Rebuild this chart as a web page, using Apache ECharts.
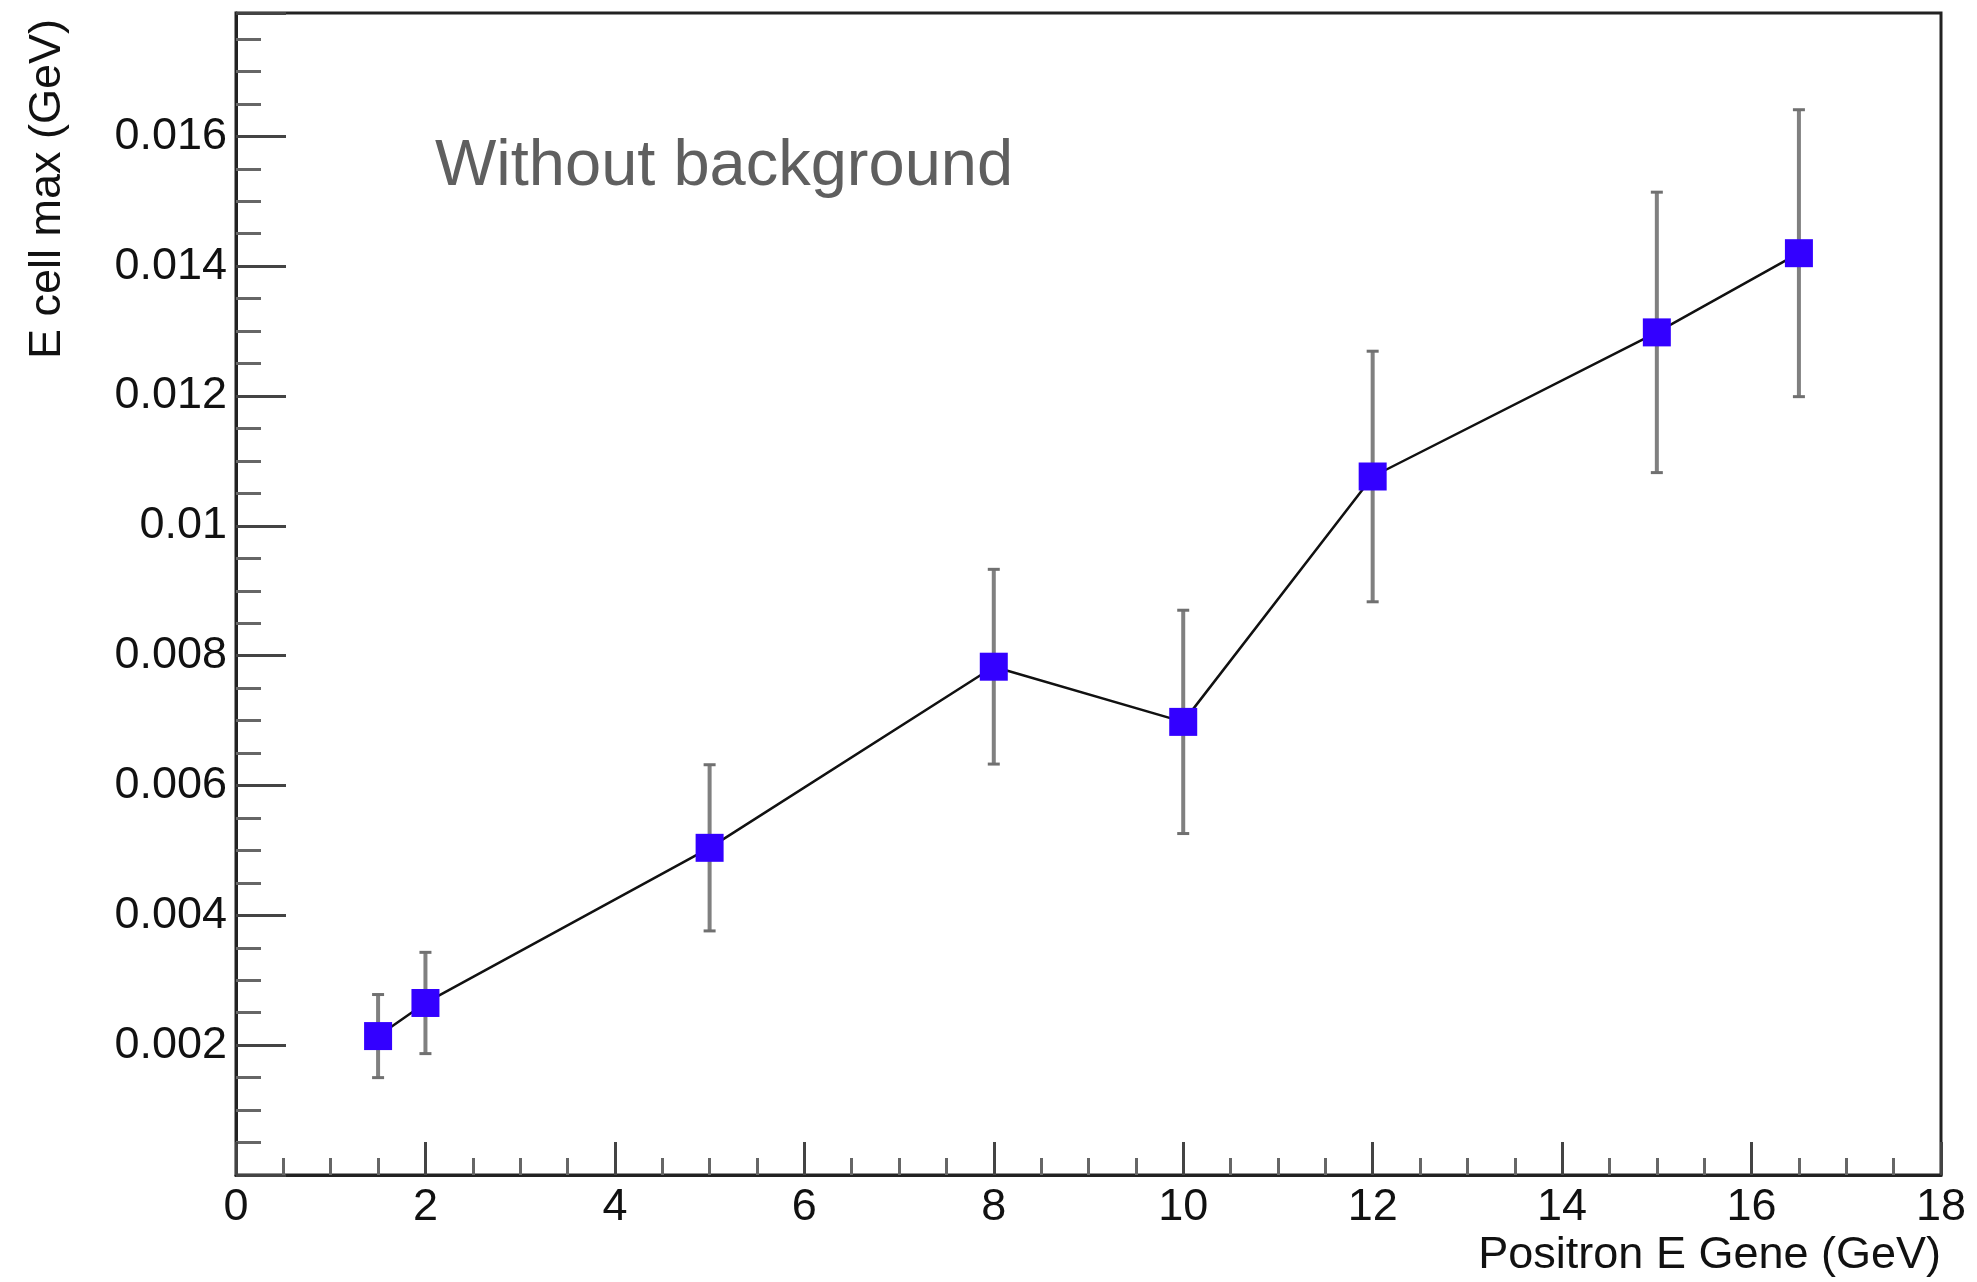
<!DOCTYPE html>
<html>
<head>
<meta charset="utf-8">
<script src="https://cdn.jsdelivr.net/npm/echarts@6/dist/echarts.min.js"></script>
<style>
html,body{margin:0;padding:0;background:#fff;}
#chart{width:1977px;height:1282px;}
</style>
</head>
<body>
<div id="chart"></div>
<script>
// Data
var xValues = [1.5, 2, 5, 8, 10, 12, 15, 16.5];
var yValues = [0.00214, 0.00265, 0.00504, 0.00783, 0.00698, 0.01076, 0.01298, 0.01420];
var yErrors = [0.00064, 0.00078, 0.00128, 0.00150, 0.00172, 0.00193, 0.00216, 0.00221];
var xTickLabels = ['0','2','4','6','8','10','12','14','16','18'];
var yTickLabels = ['0.002','0.004','0.006','0.008','0.01','0.012','0.014','0.016'];
var xTitle = 'Positron E Gene (GeV)';
var yTitle = 'E cell max (GeV)';
var annotation = 'Without background';

var FONT = '"Liberation Sans", Arial, Helvetica, sans-serif';

var points = xValues.map(function (x, i) { return [x, yValues[i]]; });
var errData = xValues.map(function (x, i) { return [x, yValues[i] - yErrors[i], yValues[i] + yErrors[i]]; });

function yLabel(v) {
  var k = Math.round(v / 0.002);
  if (k < 1 || k > yTickLabels.length) return '';
  if (Math.abs(v - k * 0.002) > 1e-9) return '';
  return yTickLabels[k - 1];
}
function xLabel(v) {
  var k = Math.round(v / 2);
  if (Math.abs(v - k * 2) > 1e-9) return '';
  return xTickLabels[k] || '';
}

var chart = echarts.init(document.getElementById('chart'), null, {renderer: 'canvas'});
var option = {
  backgroundColor: '#ffffff',
  animation: false,
  grid: {
    left: 236, right: 36, top: 13, bottom: 107,
    show: true, borderColor: '#222', borderWidth: 3, backgroundColor: 'transparent'
  },
  xAxis: [{
    type: 'value', min: 0, max: 18, interval: 2,
    axisLine: {show: true, lineStyle: {color: '#222', width: 3}},
    axisTick: {show: true, inside: true, length: 33, lineStyle: {color: '#444', width: 3}},
    minorTick: {show: true, splitNumber: 4, length: 17, lineStyle: {color: '#666', width: 3}},
    splitLine: {show: false},
    axisLabel: {formatter: xLabel, color: '#111', fontSize: 45, fontFamily: FONT, margin: 10}
  }],
  yAxis: [{
    type: 'value', min: 0, max: 0.0179, interval: 0.0005,
    axisLine: {show: true, lineStyle: {color: '#222', width: 3}},
    axisTick: {show: true, inside: true, length: 25, lineStyle: {color: '#666', width: 3}},
    splitLine: {show: false},
    axisLabel: {show: false}
  }, {
    type: 'value', min: 0, max: 0.0179, interval: 0.002, position: 'left',
    axisLine: {show: false},
    axisTick: {show: true, inside: true, length: 50, lineStyle: {color: '#444', width: 3}},
    splitLine: {show: false},
    axisLabel: {formatter: yLabel, color: '#111', fontSize: 45, fontFamily: FONT, margin: 9}
  }],
  graphic: [{
    type: 'text', left: 435, top: 168 - 33,
    style: {text: annotation, fill: '#5f5f5f', font: '65px ' + FONT}
  }, {
    type: 'text', x: 1941, y: 1256,
    style: {text: xTitle, fill: '#111', font: '45px ' + FONT, textAlign: 'right', textVerticalAlign: 'middle'}
  }, {
    type: 'text', x: 48, y: 19, rotation: Math.PI / 2,
    style: {text: yTitle, fill: '#111', font: '45px ' + FONT, textAlign: 'right', textVerticalAlign: 'middle'}
  }],
  series: [{
    type: 'custom',
    xAxisIndex: 0, yAxisIndex: 1,
    data: errData,
    z: 2,
    renderItem: function (params, api) {
      var x = api.value(0);
      var lo = api.coord([x, api.value(1)]);
      var hi = api.coord([x, api.value(2)]);
      var c = 6;
      var st = {stroke: '#808080', lineWidth: 4};
      return {
        type: 'group',
        children: [
          {type: 'line', shape: {x1: lo[0], y1: lo[1], x2: hi[0], y2: hi[1]}, style: st},
          {type: 'line', shape: {x1: lo[0] - c, y1: lo[1], x2: lo[0] + c, y2: lo[1]}, style: {stroke: '#707070', lineWidth: 3}},
          {type: 'line', shape: {x1: hi[0] - c, y1: hi[1], x2: hi[0] + c, y2: hi[1]}, style: {stroke: '#707070', lineWidth: 3}}
        ]
      };
    }
  }, {
    type: 'line',
    xAxisIndex: 0, yAxisIndex: 1,
    data: points,
    z: 3,
    lineStyle: {color: '#111', width: 2.5},
    symbol: 'rect', symbolSize: 28,
    itemStyle: {color: '#3300ff'},
    emphasis: {disabled: true}
  }]
};
chart.setOption(option);
</script>
</body>
</html>
